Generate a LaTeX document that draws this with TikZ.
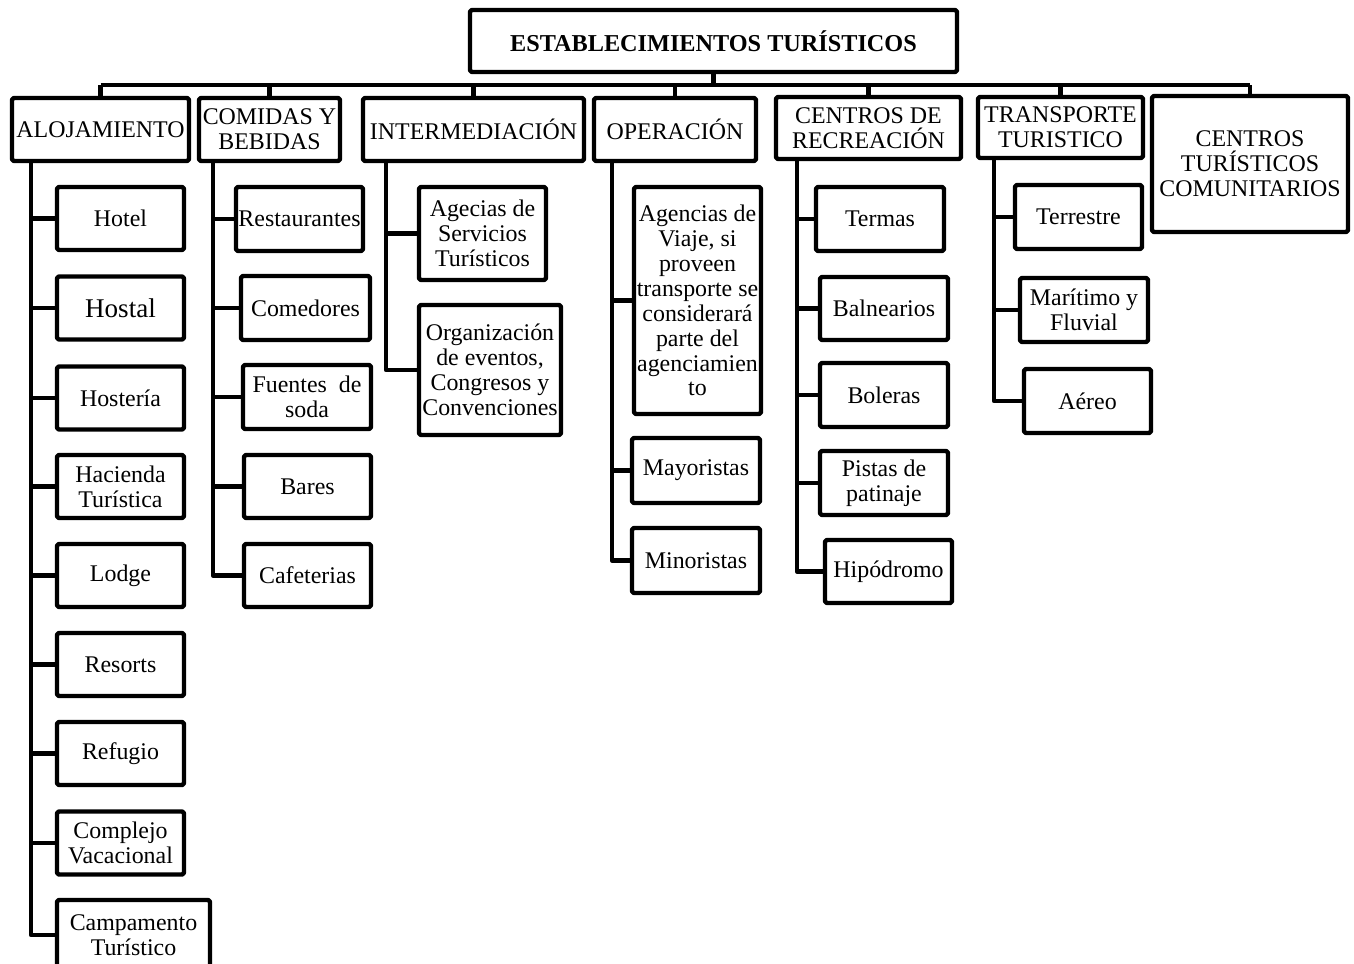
\documentclass[tikz,border=0pt]{standalone}
\usepackage{fontspec}
\setmainfont{Liberation Serif}
\begin{document}
\begin{tikzpicture}[x=0.02cm, y=-0.02cm, line width=2.5pt, line join=round,
	box/.style 2 args={draw, rounded corners=1pt, inner sep=0pt, align=center,
		minimum width=#1*0.02cm, minimum height=#2*0.02cm,
		font=\fontsize{13.6}{14.2}\selectfont}]
	\useasboundingbox (0,0) rectangle (1354,963);
	%raiz
	\node[box={487}{62}, font=\fontsize{13.8}{14.2}\selectfont\bfseries] (root) at (713.5,41) {ESTABLECIMIENTOS TURÍSTICOS};
	%categorias
	\node[box={177}{63}] (aloj) at (100.5,129.5) {ALOJAMIENTO};
	\node[box={141}{63}] (comi) at (269.5,129.5) {COMIDAS Y\\BEBIDAS};
	\node[box={221}{63}] (inte) at (473.5,129.5) {INTERMEDIACIÓN};
	\node[box={162}{63}] (oper) at (675,129.5) {OPERACIÓN};
	\node[box={185}{62}] (recr) at (868.5,128) {CENTROS DE\\RECREACIÓN};
	\node[box={165}{61}] (tran) at (1060.5,127.5) {TRANSPORTE\\TURISTICO};
	\node[box={196}{136}] (comu) at (1250,164) {CENTROS\\TURÍSTICOS\\COMUNITARIOS};
	%bus
	\coordinate (bus) at (713.5,85);
	\draw (root.south) -- (bus);
	\draw (aloj.north |- bus) -- (comu.north |- bus);
	\foreach \n in {aloj,comi,inte,oper,recr,tran,comu} {
		\draw (\n.north) -- (\n.north |- bus);
	}
	%alojamiento
	\node[box={127}{63}] (hotel) at (120.5,218.5) {Hotel};
	\node[box={127}{63}, font=\fontsize{15.4}{16}\selectfont] (hostal) at (120.5,308) {Hostal};
	\node[box={127}{63}] (hoste) at (120.5,398) {Hostería};
	\node[box={127}{63}] (hacie) at (120.5,486.5) {Hacienda\\Turística};
	\node[box={127}{63}] (lodge) at (120.5,575.5) {Lodge};
	\node[box={127}{63}] (resor) at (120.5,664.5) {Resorts};
	\node[box={127}{63}] (refug) at (120.5,753.5) {Refugio};
	\node[box={127}{63}] (compl) at (120.5,843) {Complejo\\Vacacional};
	\node[box={153}{70}] (campa) at (133.5,935) {Campamento\\Turístico};
	\coordinate (ta) at (31,161);
	\foreach \c in {hotel,hostal,hoste,hacie,lodge,resor,refug,compl,campa} {
		\draw (ta) |- (\c.west);
	}
	%comidas
	\node[box={127}{64}] (resta) at (299.5,219) {Restaurantes};
	\node[box={129}{64}] (comed) at (305.5,308) {Comedores};
	\node[box={128}{64}] (fuent) at (307,397) {Fuentes\ \ de\\soda};
	\node[box={127}{63}] (bares) at (307.5,486.5) {Bares};
	\node[box={127}{63}] (cafet) at (307.5,575.5) {Cafeterias};
	\coordinate (tc) at (213,161);
	\foreach \c in {resta,comed,fuent,bares,cafet} {
		\draw (tc) |- (\c.west);
	}
	%intermediacion
	\node[box={127}{93}] (agser) at (482.5,233.5) {Agecias de\\Servicios\\Turísticos};
	\node[box={142}{130}] (organ) at (490,370) {Organización\\de eventos,\\Congresos y\\Convenciones};
	\coordinate (ti) at (386,161);
	\foreach \c in {agser,organ} {
		\draw (ti) |- (\c.west);
	}
	%operacion
	\node[box={127}{227}] (agvia) at (697.5,300.5) {Agencias de\\Viaje, si\\proveen\\transporte se\\considerará\\parte del\\agenciamien\\to};
	\node[box={128}{65}] (mayor) at (696,470.5) {Mayoristas};
	\node[box={128}{65}] (minor) at (696,560.5) {Minoristas};
	\coordinate (to) at (612,161);
	\foreach \c in {agvia,mayor,minor} {
		\draw (to) |- (\c.west);
	}
	%recreacion
	\node[box={128}{64}] (terma) at (880,219) {Termas};
	\node[box={128}{63}] (balne) at (884,308.5) {Balnearios};
	\node[box={128}{64}] (boler) at (884,395) {Boleras};
	\node[box={128}{64}] (pista) at (884,483) {Pistas de\\patinaje};
	\node[box={127}{63}] (hipod) at (888.5,571.5) {Hipódromo};
	\coordinate (tr) at (797,159);
	\foreach \c in {terma,balne,boler,pista,hipod} {
		\draw (tr) |- (\c.west);
	}
	%transporte
	\node[box={127}{64}] (terre) at (1078.5,217) {Terrestre};
	\node[box={128}{64}] (marit) at (1084,310) {Marítimo y\\Fluvial};
	\node[box={127}{64}] (aereo) at (1087.5,401) {Aéreo};
	\coordinate (tt) at (994,158);
	\foreach \c in {terre,marit,aereo} {
		\draw (tt) |- (\c.west);
	}
\end{tikzpicture}
\end{document}
